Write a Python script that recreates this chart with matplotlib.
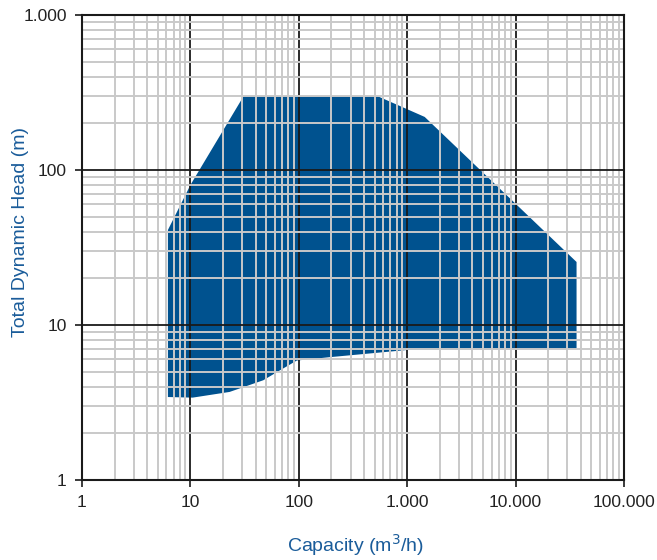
import matplotlib
matplotlib.use("Agg")
import matplotlib.pyplot as plt
from matplotlib.ticker import FixedLocator, FixedFormatter, LogLocator, NullFormatter

# Operating envelope (capacity m3/h, head m)
env_capacity = [6.2, 6.2, 10.0, 31, 530, 1450, 36500, 36500, 1000, 193, 96, 67, 47, 23, 10.5, 6.2]
env_head = [3.43, 41, 80, 300, 300, 220, 25.5, 7.0, 6.9, 6.2, 5.9, 5.1, 4.4, 3.7, 3.4, 3.43]

x_ticks = [1, 10, 100, 1000, 10000, 100000]
x_labels = ["1", "10", "100", "1.000", "10.000", "100.000"]
y_ticks = [1, 10, 100, 1000]
y_labels = ["1", "10", "100", "1.000"]

fill_color = "#00528f"
label_color = "#1a5c9a"
fam = ["Liberation Sans Narrow", "Liberation Sans", "DejaVu Sans"]

fig = plt.figure(figsize=(6.57, 5.60), dpi=100)
ax = fig.add_axes([82/657, 1-480/560, (624-82)/657, (480-15)/560])
ax.set_xscale("log")
ax.set_yscale("log")
ax.set_xlim(1, 100000)
ax.set_ylim(1, 1000)

ax.fill(env_capacity, env_head, color=fill_color, lw=0, zorder=1)

ax.xaxis.set_major_locator(FixedLocator(x_ticks))
ax.xaxis.set_major_formatter(FixedFormatter(x_labels))
ax.yaxis.set_major_locator(FixedLocator(y_ticks))
ax.yaxis.set_major_formatter(FixedFormatter(y_labels))
ax.xaxis.set_minor_locator(LogLocator(base=10, subs=range(2, 10), numticks=20))
ax.yaxis.set_minor_locator(LogLocator(base=10, subs=range(2, 10), numticks=20))
ax.xaxis.set_minor_formatter(NullFormatter())
ax.yaxis.set_minor_formatter(NullFormatter())

ax.set_axisbelow(False)
ax.grid(which="minor", color="#c9c9c9", lw=1.4, zorder=2)
ax.grid(which="major", color="#1a1a1a", lw=1.3, zorder=3)

ax.tick_params(which="major", direction="out", length=5, width=1.2, color="#1a1a1a",
               labelsize=12.5, pad=6)
ax.tick_params(which="minor", length=0)
for lab in ax.get_xticklabels() + ax.get_yticklabels():
    lab.set_family(fam)
    lab.set_color("#222222")

for s in ax.spines.values():
    s.set_color("#1a1a1a")
    s.set_linewidth(1.5)
    s.set_zorder(4)

ax.set_xlabel("Capacity (m$^3$/h)", color=label_color, fontsize=14, family=fam)
ax.set_ylabel("Total Dynamic Head (m)", color=label_color, fontsize=14, family=fam)
ax.xaxis.set_label_coords((356-82)/542, -(532-480)/465)
ax.yaxis.set_label_coords(-(82-29)/542, (480-232)/465)

fig.savefig("out.png", dpi=100)
